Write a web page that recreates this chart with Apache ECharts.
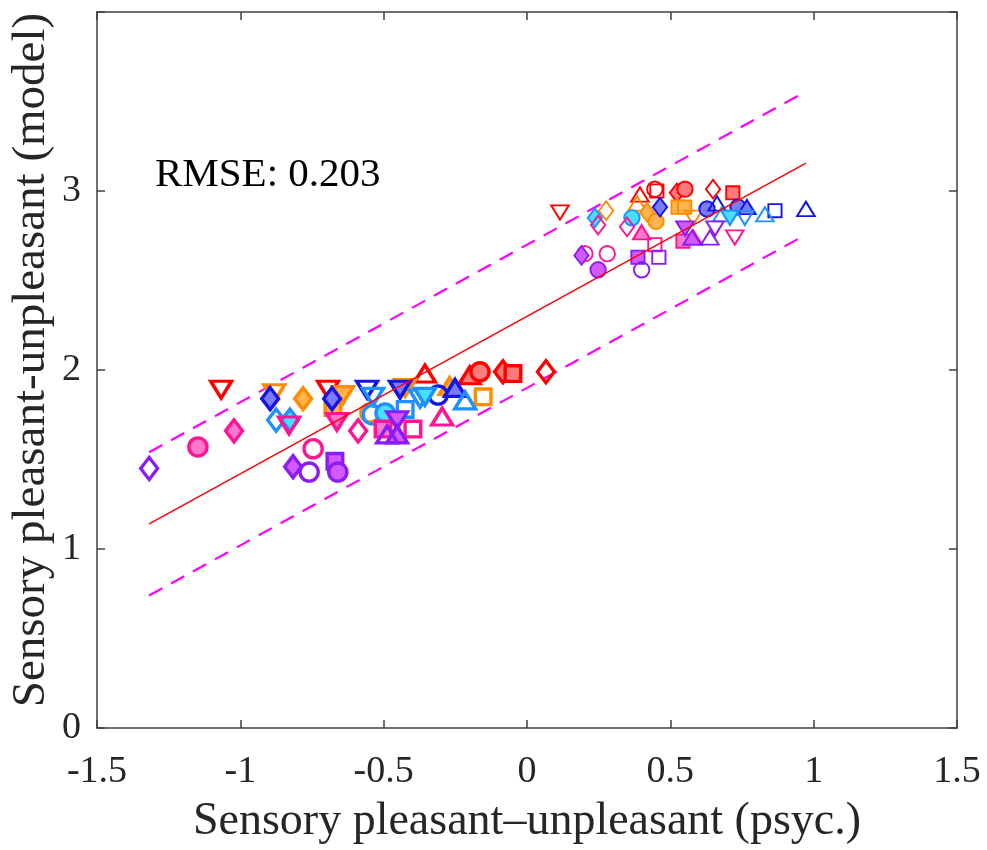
<!DOCTYPE html>
<html><head><meta charset="utf-8">
<script src="https://cdn.jsdelivr.net/npm/echarts@6/dist/echarts.min.js"></script>
<style>html,body{margin:0;padding:0;background:#fff}#c{width:987px;height:850px}</style>
</head><body><div id="c"></div>
<script>
// ---- data ----
const xTicks = [-1.5, -1, -0.5, 0, 0.5, 1, 1.5];
const yTicks = [0, 1, 2, 3];
const rmse = 0.203;
const fitSlope = 0.88;
const fitIntercept = 2.30;
const bandHalfWidth = 0.40;

// [x, y, shape, style]  shape: o s d ^ v ; style 0 thin hollow, 1 thin filled, 2 thick hollow, 3 thick filled
const redPts = [
  [-1.067, 1.89, 'v', 2], [-0.694, 1.89, 'v', 2], [-0.356, 1.98, '^', 2],
  [-0.200, 1.97, '^', 3], [-0.164, 1.99, 'o', 3], [-0.084, 1.99, 'd', 3],
  [-0.049, 1.98, 's', 3], [0.066, 1.99, 'd', 2],
  [0.115, 2.88, 'v', 0], [0.394, 2.98, '^', 0], [0.446, 3.01, 'o', 0],
  [0.453, 3.00, 's', 0], [0.523, 2.99, 'd', 1], [0.551, 3.01, 'o', 1],
  [0.649, 3.01, 'd', 0], [0.718, 2.99, 's', 1]
];
const orangePts = [
  [-0.882, 1.87, 'v', 2], [-0.781, 1.84, 'd', 3], [-0.642, 1.86, 'v', 3],
  [-0.677, 1.79, 's', 3], [-0.425, 1.90, 'v', 2], [-0.548, 1.76, 'o', 2],
  [-0.270, 1.91, '^', 3], [-0.153, 1.85, 's', 2],
  [0.276, 2.89, 'd', 0], [0.384, 2.93, '^', 0], [0.419, 2.88, 'd', 1],
  [0.450, 2.83, 'o', 1], [0.527, 2.91, 's', 1], [0.550, 2.91, 's', 1],
  [0.580, 2.85, 'v', 0]
];
const bluePts = [
  [-0.896, 1.84, 'd', 3], [-0.680, 1.84, 'd', 3], [-0.558, 1.89, 'v', 2],
  [-0.443, 1.89, 'v', 3], [-0.310, 1.86, 'o', 2], [-0.251, 1.90, '^', 3],
  [0.464, 2.91, 'd', 1], [0.628, 2.90, 'o', 1], [0.663, 2.93, '^', 0],
  [0.736, 2.91, 'o', 1], [0.767, 2.91, '^', 1], [0.865, 2.89, 's', 0],
  [0.973, 2.90, '^', 0]
];
const dodgerPts = [
  [-0.875, 1.72, 'd', 2], [-0.827, 1.72, 'd', 3], [-0.537, 1.85, 'v', 2],
  [-0.540, 1.75, 'o', 2], [-0.495, 1.76, 'o', 3], [-0.425, 1.78, 's', 2],
  [-0.373, 1.84, 'v', 2], [-0.356, 1.85, 'v', 3], [-0.216, 1.83, '^', 2],
  [0.237, 2.85, 'd', 1], [0.366, 2.85, 'o', 1], [0.680, 2.87, '^', 0],
  [0.708, 2.85, 'v', 1], [0.760, 2.85, 'v', 0], [0.830, 2.87, '^', 0]
];
const pinkPts = [
  [-1.148, 1.57, 'o', 3], [-1.022, 1.66, 'd', 3], [-0.830, 1.69, 'v', 2],
  [-0.663, 1.71, 'v', 3], [-0.746, 1.56, 'o', 2], [-0.589, 1.66, 'd', 2],
  [-0.502, 1.67, 's', 3], [-0.398, 1.67, 's', 2], [-0.296, 1.74, '^', 2],
  [0.248, 2.81, 'd', 0], [0.349, 2.80, 'd', 0], [0.400, 2.77, '^', 1],
  [0.446, 2.70, 's', 0], [0.544, 2.72, 's', 1], [0.580, 2.74, '^', 1],
  [0.725, 2.74, 'v', 0], [0.280, 2.65, 'o', 0], [0.202, 2.65, 'o', 0]
];
const purplePts = [
  [-1.318, 1.45, 'd', 2], [-0.816, 1.46, 'd', 3], [-0.760, 1.43, 'o', 2],
  [-0.670, 1.49, 's', 3], [-0.660, 1.43, 'o', 3], [-0.453, 1.72, 'v', 3],
  [-0.453, 1.64, '^', 3], [-0.488, 1.64, '^', 2],
  [0.190, 2.64, 'd', 1], [0.248, 2.56, 'o', 1], [0.387, 2.63, 's', 1],
  [0.460, 2.63, 's', 0], [0.400, 2.56, 'o', 0], [0.551, 2.79, 'v', 1],
  [0.576, 2.74, '^', 1], [0.656, 2.79, 'v', 0], [0.638, 2.74, '^', 0]
];

// ---- styling ----
const groups = [
  { pts: redPts,    edge: '#FF0000', face: '#FF7A7A' },
  { pts: orangePts, edge: '#FF8C00', face: '#FFB44D' },
  { pts: bluePts,   edge: '#1414E6', face: '#7A7AFF' },
  { pts: dodgerPts, edge: '#1E90FF', face: '#48E0FF' },
  { pts: pinkPts,   edge: '#FF1493', face: '#FF78CC' },
  { pts: purplePts, edge: '#8A1CF5', face: '#D45AFF' }
];
const FONT = '"Liberation Serif", "DejaVu Serif", serif';

function symbolFor(shape, thick) {
  const k = thick ? 1.3 : 1.1;
  switch (shape) {
    case 'o': return { symbol: 'circle', size: [14 * k, 14 * k], rot: 0 };
    case 's': return { symbol: 'rect', size: [12 * k, 12 * k], rot: 0 };
    case 'd': return { symbol: 'diamond', size: [13 * k, 17 * k], rot: 0 };
    case '^': return { symbol: 'triangle', size: [16 * k, 13 * k], rot: 0 };
    case 'v': return { symbol: 'triangle', size: [16 * k, 13 * k], rot: 180 };
  }
}

const scatterSeries = groups.map(g => ({
  type: 'scatter',
  silent: true,
  z: 3,
  data: g.pts.map(p => {
    const thick = p[3] >= 2;
    const filled = p[3] === 1 || p[3] === 3;
    const s = symbolFor(p[2], thick);
    return {
      value: [p[0], p[1]],
      symbol: s.symbol,
      symbolSize: s.size,
      symbolRotate: s.rot,
      itemStyle: {
        color: filled ? g.face : 'rgba(255,255,255,0)',
        borderColor: g.edge,
        borderWidth: thick ? 3.4 : 1.9,
        opacity: 1
      }
    };
  })
}));

const allX = groups.flatMap(g => g.pts.map(p => p[0]));
const xMin = Math.min(...allX), xMax = Math.max(...allX);
const fitLine = [[xMin, fitIntercept + fitSlope * xMin], [xMax, fitIntercept + fitSlope * xMax]];
const upLine = fitLine.map(p => [p[0], p[1] + bandHalfWidth]);
const loLine = fitLine.map(p => [p[0], p[1] - bandHalfWidth]);

const axisLineStyle = { color: '#404040', width: 1.5 };

const option = {
  backgroundColor: '#fff',
  animation: false,
  grid: { left: 97, right: 30, top: 12, bottom: 122, containLabel: false, outerBoundsMode: 'none' },
  xAxis: [{
    type: 'value', min: -1.5, max: 1.5, interval: 0.5,
    name: 'Sensory pleasant\u2013unpleasant (psyc.)',
    nameLocation: 'middle', nameGap: 71,
    nameTextStyle: { fontFamily: FONT, fontSize: 46, color: '#262626' },
    axisLine: { show: true, onZero: false, lineStyle: axisLineStyle },
    axisTick: { show: true, inside: true, length: 8, lineStyle: axisLineStyle },
    axisLabel: { fontFamily: FONT, fontSize: 38, color: '#262626', margin: 25 },
    splitLine: { show: false }
  }, {
    type: 'value', min: -1.5, max: 1.5, interval: 0.5, position: 'top',
    axisLine: { show: true, onZero: false, lineStyle: axisLineStyle },
    axisTick: { show: true, inside: true, length: 8, lineStyle: axisLineStyle },
    axisLabel: { show: false }, splitLine: { show: false }
  }],
  yAxis: [{
    type: 'value', min: 0, max: 4, interval: 1,
    axisLine: { show: true, onZero: false, lineStyle: axisLineStyle },
    axisTick: { show: true, inside: true, length: 8, lineStyle: axisLineStyle },
    axisLabel: { fontFamily: FONT, fontSize: 38, color: '#262626', margin: 16,
      formatter: v => (yTicks.indexOf(v) >= 0 ? String(v) : '') },
    splitLine: { show: false }
  }, {
    type: 'value', min: 0, max: 4, interval: 1, position: 'right',
    axisLine: { show: true, onZero: false, lineStyle: axisLineStyle },
    axisTick: { show: true, inside: true, length: 8, lineStyle: axisLineStyle },
    axisLabel: { show: false }, splitLine: { show: false }
  }],
  graphic: [{
    type: 'text', left: 155, top: 155, z: 10,
    style: { text: 'RMSE: ' + rmse.toFixed(3), fontFamily: FONT, fontSize: 41, fill: '#000' }
  }, {
    type: 'text', x: 32, y: 360, rotation: Math.PI / 2, z: 10,
    style: { text: 'Sensory pleasant-unpleasant (model)', fontFamily: FONT, fontSize: 47,
      fill: '#262626', align: 'center', verticalAlign: 'middle' }
  }],
  series: [
    { type: 'line', data: upLine, symbol: 'none', silent: true, z: 2,
      lineStyle: { color: '#FF00FF', width: 2.2, type: [15, 10] } },
    { type: 'line', data: loLine, symbol: 'none', silent: true, z: 2,
      lineStyle: { color: '#FF00FF', width: 2.2, type: [15, 10] } },
    ...scatterSeries,
    { type: 'line', data: fitLine, symbol: 'none', silent: true, z: 4,
      lineStyle: { color: '#FF0000', width: 1.5 } }
  ]
};

const chart = echarts.init(document.getElementById('c'), null, { renderer: 'canvas' });
chart.setOption(option);
</script>
</body></html>
